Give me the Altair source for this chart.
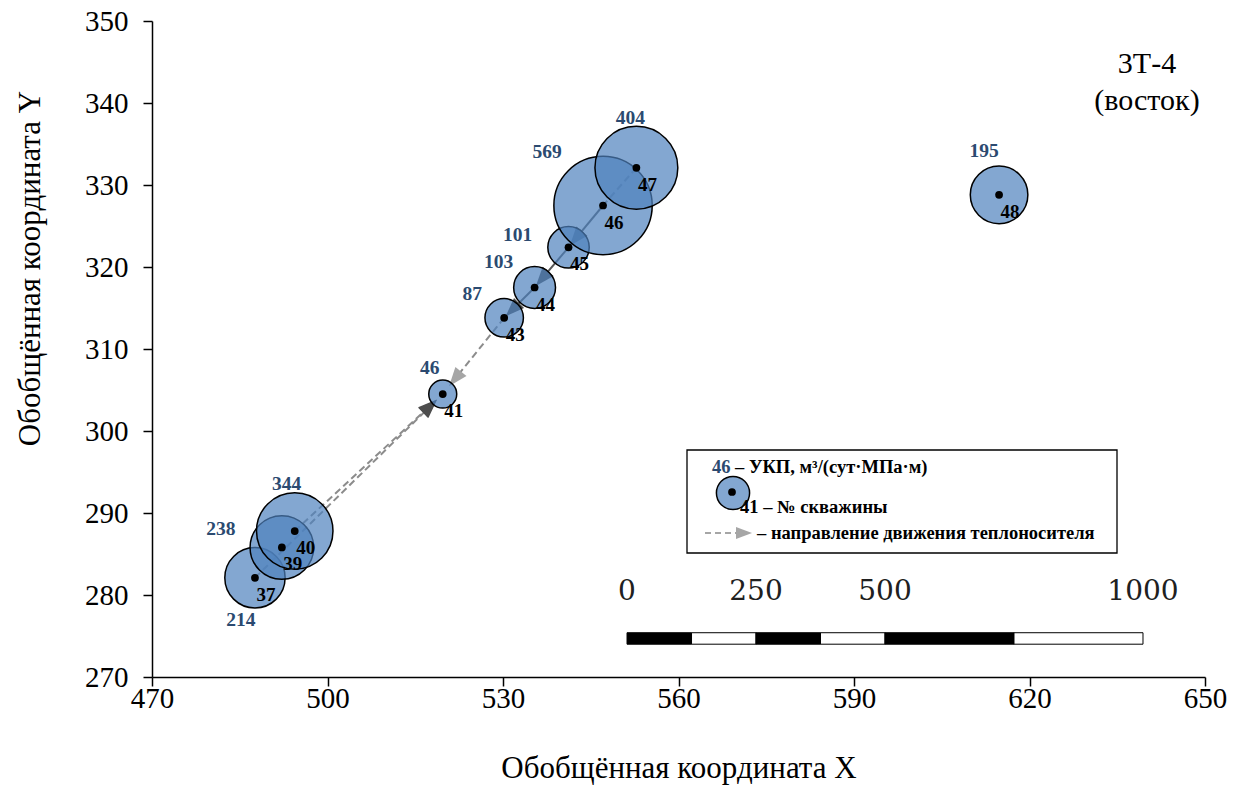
import math
import altair as alt
import pandas as pd

# ---- wells: number, generalized coordinates, UKP value ----
wells = [37, 39, 40, 41, 43, 44, 45, 46, 47, 48]
coord_x = [487.6, 492.2, 494.4, 519.7, 530.2, 535.4, 541.2, 547.1, 552.8, 614.8]
coord_y = [282.1, 285.8, 287.8, 304.5, 313.8, 317.5, 322.4, 327.5, 332.1, 328.8]
ukp = [214, 238, 344, 46, 87, 103, 101, 569, 404, 195]

# placement of UKP labels around each well point, px (right, down)
ukp_dx = [-14, -61, -8, -13, -32, -36, -51, -56, -6, -15]
ukp_dy = [42, -18, -47, -26, -24, -26, -12, -54, -50, -44]

# coolant flow direction between wells
flow_from = [47, 46, 45, 44, 43, 37, 40]
flow_to = [46, 45, 44, 43, 41, 41, 41]
flow_kind = ["dash", "solid", "solid", "solid", "dash", "dash", "dash"]
flow_head = ["none", "dark", "dark", "dark", "light", "dark", "dark"]
flow_gap = [0, 2, 2, 2, 10, 8, 8]  # px between arrow tip and target point

# map scale bar, metres
scale_labels_m = [0, 250, 500, 1000]
scale_edges_m = [0, 125, 250, 375, 500, 750, 1000]
SCALE_X0 = 551.2           # chart x where 0 m starts
SCALE_PER_M = 0.0882       # chart x units per metre
SCALE_Y = [274.0, 275.4]
SCALE_LABEL_Y = 280.4

X_DOMAIN = [470, 650]
Y_DOMAIN = [270, 350]
W, H = 1053, 656
SX = W / (X_DOMAIN[1] - X_DOMAIN[0])
SY = H / (Y_DOMAIN[1] - Y_DOMAIN[0])

SERIF = "Liberation Serif"
BLUE = "#4F81BD"
LABEL_BLUE = "#2B4A70"
HEAD_LEN = 19
ARROW_PATH = "M0,-1L0.75,1L-0.75,1Z"

pos = {w: (x, y) for w, x, y in zip(wells, coord_x, coord_y)}

wells_df = pd.DataFrame({"well": wells, "x": coord_x, "y": coord_y, "ukp": ukp})
wells_df["lx"] = [x + dx / SX for x, dx in zip(coord_x, ukp_dx)]
wells_df["ly"] = [y - dy / SY for y, dy in zip(coord_y, ukp_dy)]

rows, heads = [], []
for a, b, kind, head, gap in zip(flow_from, flow_to, flow_kind, flow_head, flow_gap):
    x0, y0 = pos[a]
    x1, y1 = pos[b]
    ux, uy = (x1 - x0) * SX, (y1 - y0) * SY
    L = math.hypot(ux, uy)
    ex, ey = ux / L, uy / L
    ang = math.degrees(math.atan2(ex, ey)) % 360
    if head != "none":
        back = gap + HEAD_LEN / 2
        hx, hy = x1 - back * ex / SX, y1 - back * ey / SY
        heads.append({"x": hx, "y": hy, "angle": ang,
                      "color": "#4d4d4d" if head == "dark" else "#a6a6a6"})
        ex1, ey1 = hx, hy
    else:
        ex1, ey1 = x1, y1
    rows.append({"x0": x0, "y0": y0, "x1": ex1, "y1": ey1, "kind": kind})
flow_df = pd.DataFrame(rows)
heads_df = pd.DataFrame(heads)

xs = alt.Scale(domain=X_DOMAIN, nice=False, zero=False)
ys = alt.Scale(domain=Y_DOMAIN, nice=False, zero=False)

x_axis = alt.Axis(values=list(range(470, 651, 30)), title="Обобщённая координата X",
                  grid=False, domainColor="black", domainWidth=1.5, tickColor="black",
                  tickWidth=1.5, tickSize=9, labelFont=SERIF, labelFontSize=29,
                  labelColor="black", labelPadding=-2, labelFlush=False, labelOverlap=False,
                  titleFont=SERIF, titleFontSize=31, titleFontWeight="normal",
                  titleColor="black", titleY=91, titleBaseline="middle")
y_axis = alt.Axis(values=list(range(270, 351, 10)), title="Обобщённая координата Y",
                  grid=False, domainColor="black", domainWidth=1.5, tickColor="black",
                  tickWidth=1.5, tickSize=9, labelFont=SERIF, labelFontSize=29,
                  labelColor="black", labelPadding=15, labelFlush=False, labelOverlap=False,
                  titleFont=SERIF, titleFontSize=31, titleFontWeight="normal",
                  titleColor="black", titleX=-122, titleY=247, titleBaseline="middle")


def X(f):
    return alt.X(f, type="quantitative", scale=xs, axis=x_axis)


def Y(f):
    return alt.Y(f, type="quantitative", scale=ys, axis=y_axis)


one = pd.DataFrame({"a": [0]})

# flow arrows (under the bubbles)
dashed = alt.Chart(flow_df[flow_df.kind == "dash"]).mark_rule(
    color="#8c8c8c", strokeWidth=2, strokeDash=[7, 4]
).encode(x=X("x0"), y=Y("y0"), x2="x1:Q", y2="y1:Q")
solid = alt.Chart(flow_df[flow_df.kind == "solid"]).mark_rule(
    color="#555555", strokeWidth=2
).encode(x=X("x0"), y=Y("y0"), x2="x1:Q", y2="y1:Q")
arrowheads = alt.Chart(heads_df).mark_point(
    shape=ARROW_PATH, filled=True, opacity=1, size=HEAD_LEN ** 2
).encode(x=X("x"), y=Y("y"), angle=alt.Angle("angle:Q", scale=None),
         color=alt.Color("color:N", scale=None))

# bubbles: symbol size = diameter^2, diameter^2 proportional to UKP
bubbles = alt.Chart(wells_df).mark_circle(
    fill=BLUE, fillOpacity=0.7, stroke="black", strokeWidth=1.5, opacity=1
).encode(
    x=X("x"), y=Y("y"),
    size=alt.Size("ukp:Q", scale=alt.Scale(domain=[0, 600], range=[0, 10200]), legend=None),
    order=alt.Order("well:Q"),
)
dots = alt.Chart(wells_df).mark_circle(color="black", size=60, opacity=1).encode(
    x=X("x"), y=Y("y"))

well_labels = alt.Chart(wells_df).mark_text(
    font=SERIF, fontSize=19, fontWeight="bold", color="black", dx=11, dy=17
).encode(x=X("x"), y=Y("y"), text="well:N")
ukp_labels = alt.Chart(wells_df).mark_text(
    font=SERIF, fontSize=19.5, fontWeight="bold", color=LABEL_BLUE
).encode(x=X("lx"), y=Y("ly"), text="ukp:N")

# zone caption
zone = alt.Chart(one).mark_text(font=SERIF, fontSize=30, color="black").encode(
    x=alt.value(995), y=alt.value(43), text=alt.value("3Т-4"))
zone2 = alt.Chart(one).mark_text(font=SERIF, fontSize=30, color="black").encode(
    x=alt.value(995), y=alt.value(80), text=alt.value("(восток)"))

# scale bar
seg_df = pd.DataFrame({
    "x0": [SCALE_X0 + m * SCALE_PER_M for m in scale_edges_m[:-1]],
    "x1": [SCALE_X0 + m * SCALE_PER_M for m in scale_edges_m[1:]],
    "fill": ["black", "white"] * 3,
})
seg_df["y0"] = SCALE_Y[0]
seg_df["y1"] = SCALE_Y[1]
scale_bar = alt.Chart(seg_df).mark_rect(stroke="black", strokeWidth=1).encode(
    x=X("x0"), x2="x1:Q", y=Y("y0"), y2="y1:Q", fill=alt.Fill("fill:N", scale=None))
lab_df = pd.DataFrame({"m": scale_labels_m,
                       "x": [SCALE_X0 + m * SCALE_PER_M for m in scale_labels_m]})
lab_df["y"] = SCALE_LABEL_Y
scale_text = alt.Chart(lab_df).mark_text(font="DejaVu Serif", fontSize=28, color="#202020").encode(
    x=X("x"), y=Y("y"), text="m:N")

# legend box
LG = 18.5
lg_box = alt.Chart(one).mark_rect(fill="white", stroke="black", strokeWidth=1.3).encode(
    x=alt.value(535), x2=alt.value(965), y=alt.value(429), y2=alt.value(532))
lg_t1a = alt.Chart(one).mark_text(font=SERIF, fontSize=LG, fontWeight="bold",
                                  color=LABEL_BLUE, align="left").encode(
    x=alt.value(560), y=alt.value(446), text=alt.value("46"))
lg_t1b = alt.Chart(one).mark_text(font=SERIF, fontSize=LG, fontWeight="bold",
                                  color="black", align="left").encode(
    x=alt.value(583), y=alt.value(446), text=alt.value("– УКП, м³/(сут·МПа·м)"))
lg_circle = alt.Chart(one).mark_point(shape="circle", filled=True, fill=BLUE, fillOpacity=0.7,
                                      stroke="black", strokeWidth=1.5, size=1100, opacity=1).encode(
    x=alt.value(581), y=alt.value(472))
lg_dot = alt.Chart(one).mark_circle(color="black", size=60, opacity=1).encode(
    x=alt.value(580), y=alt.value(471))
lg_t2 = alt.Chart(one).mark_text(font=SERIF, fontSize=LG, fontWeight="bold",
                                 color="black", align="left").encode(
    x=alt.value(588), y=alt.value(486), text=alt.value("41 – № скважины"))
lg_line = alt.Chart(one).mark_rule(color="#a6a6a6", strokeWidth=2, strokeDash=[6, 4]).encode(
    x=alt.value(553), x2=alt.value(590), y=alt.value(512))
lg_head = alt.Chart(one).mark_point(shape=ARROW_PATH, filled=True, color="#a6a6a6",
                                    size=256, angle=90, opacity=1).encode(
    x=alt.value(592), y=alt.value(512))
lg_t3 = alt.Chart(one).mark_text(font=SERIF, fontSize=LG, fontWeight="bold",
                                 color="black", align="left").encode(
    x=alt.value(605), y=alt.value(512), text=alt.value("– направление движения теплоносителя"))

chart = alt.layer(
    dashed, solid, arrowheads, bubbles, dots, well_labels, ukp_labels,
    zone, zone2, scale_text, scale_bar,
    lg_box, lg_t1a, lg_t1b, lg_circle, lg_dot, lg_t2, lg_line, lg_head, lg_t3,
).properties(
    width=W, height=H,
    autosize=alt.AutoSizeParams(type="none"),
    padding={"left": 152, "top": 21, "right": 40, "bottom": 108},
    background="white",
).configure_view(stroke=None)

chart.save("out.html", embed_options={"renderer": "svg", "actions": False})
